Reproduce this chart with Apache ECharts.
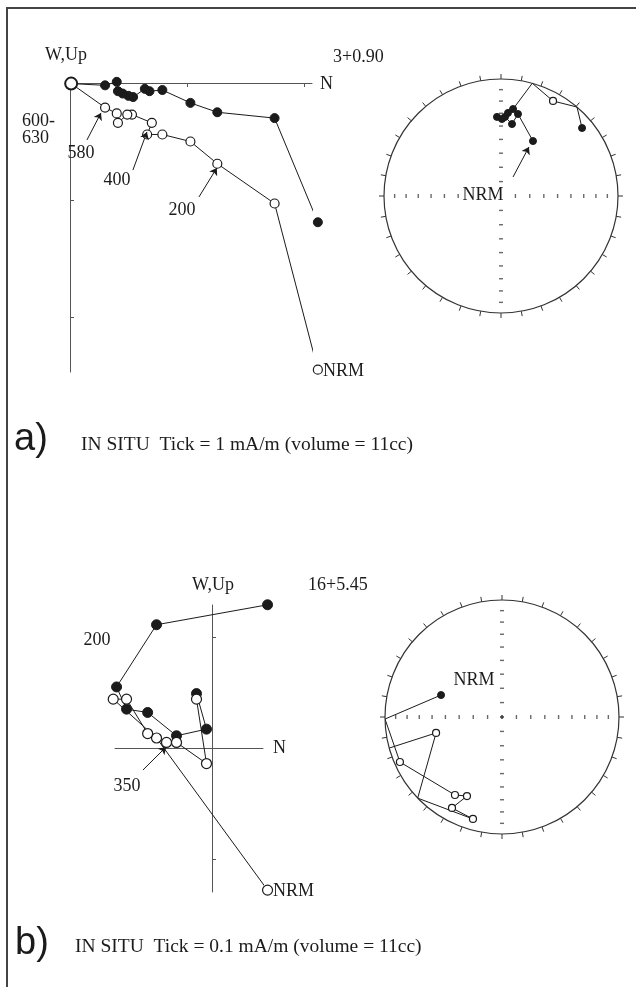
<!DOCTYPE html>
<html><head><meta charset="utf-8">
<script src="https://cdn.jsdelivr.net/npm/echarts@6/dist/echarts.min.js"></script>
<style>html,body{margin:0;padding:0;background:#fff}#c{width:636px;height:987px}</style>
</head><body><div id="c"></div>
<script>
// ---------- a) site 3+0.90 : Zijderveld (mA/m) ----------
const zA_horN  = [2.12,1.75,1.26,1.03,0.79,0.68,0.64,0.54,0.50,0.45,0.41,0.40,0.30,0.01];
const zA_horW  = [-1.19,-0.30,-0.25,-0.17,-0.06,-0.07,-0.05,-0.12,-0.11,-0.09,-0.07,0.01,-0.02,-0.005];
const zA_verN  = [2.12,1.75,1.26,1.03,0.79,0.66,0.70,0.53,0.49,0.41,0.40,0.30,0.01];
const zA_verUp = [-2.45,-1.03,-0.69,-0.50,-0.44,-0.44,-0.34,-0.27,-0.27,-0.34,-0.26,-0.21,-0.005];
const zA_ticksN = [1,2];
const zA_ticksUp = [-1,-2];
// ---------- a) stereonet (declination, inclination) ----------
const sA_dec = [30.2,11.7,8.7,2.9,357.1,0.7,4.8,7.9,15.5,28.7,40.5,50.0];
const sA_inc = [44.8,29.2,37.8,32.8,32.8,34.5,29.5,25.9,0,-8.2,0,10.5];

// ---------- b) site 16+5.45 : Zijderveld (mA/m) ----------
const zB_horN  = [0.050,-0.050,-0.086,-0.077,-0.058,-0.032,-0.005,-0.014];
const zB_horW  = [0.129,0.111,0.055,0.035,0.032,0.011,0.017,0.049];
const zB_verN  = [0.050,-0.050,-0.089,-0.077,-0.058,-0.041,-0.032,-0.005,-0.014];
const zB_verUp = [-0.128,0.009,0.044,0.044,0.013,0.005,0.005,-0.014,0.044];
const zB_ticksUp = [-0.1,0.1];
// ---------- b) stereonet ----------
const sB_dec = [289.8,269.0,246.2,211.1,203.9,208.8,195.9,226.1,256.4,254.6];
const sB_inc = [43.9,0,-5.2,-23.2,-27.0,-12.3,-10.3,0,-41.6,0];

// stereonet grid ticks (inclination every 10 deg along the N-S / E-W diameters)
const stereoTickInc = [10,20,30,40,50,60,70,80,90];
const crossDecs = [0,90,180,270];

// annotation arrows (data coords: [tail],[head])
const arrowsA = [[[-0.188,-0.145],[-0.06,-0.043]],[[0.145,-0.487],[0.265,-0.256]],[[0.538,-0.744],[0.658,-0.419]],[[1.103,-0.974],[1.256,-0.726]]];
const arrowsB = [[[-0.1009,0.0883],[-0.0892,0.0595]],[[-0.0622,-0.0198],[-0.0414,0.0009]]];
const arrowSA = [[0.192,32.3],[0.482,29.7]];

const ink = '#1b1b1b';
const axisCol = '#555';
const serif = '"Liberation Serif","DejaVu Serif",serif';
const sans = '"Liberation Sans","DejaVu Sans",sans-serif';

const zip = (a,b) => a.map((v,i)=>[v,b[i]]);
const eqArea = inc => Math.SQRT2*Math.sin((90-Math.abs(inc))/2*Math.PI/180);
const closedStyle = {color:ink,borderColor:ink,borderWidth:1};
const openStyle = {color:'#fff',borderColor:ink,borderWidth:1.2};

function stereoData(decs,incs){
  return decs.map((d,i)=>{
    const inc=incs[i];
    const it={value:[eqArea(inc),d]};
    if(inc===0){it.symbol='none';it.symbolSize=0;}
    else it.itemStyle = inc<0?openStyle:closedStyle;
    return it;
  });
}
function crossTicks(){
  const out=[];
  stereoTickInc.forEach(inc=>crossDecs.forEach(dec=>{
    out.push({value:[eqArea(inc),dec],symbolSize:(dec%180===0)?[4,1.4]:[1.4,4]});
  }));
  return out;
}
function arrowML(list){
  return {silent:true,symbol:['none','arrow'],symbolSize:7,animation:false,
    label:{show:false},lineStyle:{color:ink,width:1,type:'solid'},emphasis:{disabled:true},
    data:list.map(p=>[{coord:p[0]},{coord:p[1]}])};
}
function valAxis(grid,min,max,ticks,extra){
  return Object.assign({gridIndex:grid,type:'value',min:min,max:max,
    axisLine:{show:true,onZero:true,lineStyle:{color:axisCol,width:1}},
    axisTick:{show:!!ticks,customValues:ticks||[],inside:true,length:4,lineStyle:{color:axisCol}},
    axisLabel:{show:false},splitLine:{show:false}},extra||{});
}
function angAxis(p){
  return {polarIndex:p,type:'value',min:0,max:360,interval:10,startAngle:90,clockwise:true,
    axisLine:{lineStyle:{color:'#333',width:1.2}},axisTick:{show:true,length:5,lineStyle:{color:'#333',width:1}},
    axisLabel:{show:false},splitLine:{show:false}};
}
function radAxis(p){
  return {polarIndex:p,type:'value',min:0,max:1,axisLine:{show:false},axisTick:{show:false},axisLabel:{show:false},splitLine:{show:false}};
}
function zSeries(grid,data,style,size,extra){
  return Object.assign({type:'line',xAxisIndex:grid,yAxisIndex:grid,data:data,clip:false,
    symbol:'circle',symbolSize:size,itemStyle:style,lineStyle:{color:ink,width:1},
    emphasis:{disabled:true},silent:true},extra||{});
}
function stSeries(p,decs,incs,extra){
  return Object.assign({type:'line',coordinateSystem:'polar',polarIndex:p,data:stereoData(decs,incs),
    symbol:'circle',symbolSize:7,lineStyle:{color:ink,width:1},emphasis:{disabled:true},silent:true,z:4},extra||{});
}

const texts = [
  {t:'W,Up',x:66,y:55,a:'center'},
  {t:'N',x:320,y:84},
  {t:'3+0.90',x:333,y:57},
  {t:'600-',x:22,y:121},
  {t:'630',x:22,y:138},
  {t:'580',x:81,y:153,a:'center'},
  {t:'400',x:117,y:180,a:'center'},
  {t:'200',x:182,y:210,a:'center'},
  {t:'NRM',x:323,y:371},
  {t:'NRM',x:483,y:195,a:'center',bg:true},
  {t:'a)',x:14,y:440,s:38,f:sans},
  {t:'IN SITU  Tick = 1 mA/m (volume = 11cc)',x:81,y:445,s:19.5},
  {t:'W,Up',x:213,y:585,a:'center'},
  {t:'16+5.45',x:308,y:585},
  {t:'N',x:273,y:748},
  {t:'200',x:97,y:640,a:'center'},
  {t:'350',x:127,y:786,a:'center'},
  {t:'NRM',x:273,y:891},
  {t:'NRM',x:474,y:680,a:'center'},
  {t:'b)',x:15,y:944,s:38,f:sans},
  {t:'IN SITU  Tick = 0.1 mA/m (volume = 11cc)',x:75,y:947,s:19.5}
];

const graphic = texts.map(o=>({type:'text',x:o.x,y:o.y,z:100,silent:true,
  style:{text:o.t,font:(o.s||18)+'px '+(o.f||serif),fill:ink,align:o.a||'left',verticalAlign:'middle',
    textAlign:o.a||'left',textVerticalAlign:'middle',backgroundColor:o.bg?'#fff':'transparent',padding:o.bg?[0,1]:0}}));
graphic.push({type:'line',z:100,silent:true,shape:{x1:7,y1:8,x2:7,y2:987},style:{stroke:'#444',lineWidth:2}});
graphic.push({type:'line',z:100,silent:true,shape:{x1:6,y1:8,x2:636,y2:8},style:{stroke:'#444',lineWidth:2}});

const zA_open = zip(zA_verN,zA_verUp).map((v,i,arr)=> i===arr.length-1?{value:v,symbolSize:12,itemStyle:{color:'#fff',borderColor:ink,borderWidth:2}}:v);

const option = {
  animation:false,
  backgroundColor:'#fff',
  graphic:graphic,
  grid:[
    {left:70,top:83,width:242,height:289},
    {left:115,top:605,width:148,height:287}
  ],
  xAxis:[
    valAxis(0,0,2.07,zA_ticksN,{position:'top'}),
    valAxis(1,-0.0874,0.0459,null)
  ],
  yAxis:[
    valAxis(0,-2.47,0,zA_ticksUp),
    valAxis(1,-0.1297,0.1288,zB_ticksUp)
  ],
  polar:[{center:[501,196],radius:117},{center:[502,717],radius:117}],
  angleAxis:[angAxis(0),angAxis(1)],
  radiusAxis:[radAxis(0),radAxis(1)],
  series:[
    zSeries(0,zip(zA_horN,zA_horW),closedStyle,9),
    zSeries(0,zA_open,openStyle,9,{markLine:arrowML(arrowsA)}),
    zSeries(1,zip(zB_horN,zB_horW),closedStyle,10),
    zSeries(1,zip(zB_verN,zB_verUp),openStyle,10,{markLine:arrowML(arrowsB)}),
    {type:'scatter',coordinateSystem:'polar',polarIndex:0,data:crossTicks(),symbol:'rect',itemStyle:{color:'#444'},silent:true,z:2},
    {type:'scatter',coordinateSystem:'polar',polarIndex:1,data:crossTicks(),symbol:'rect',itemStyle:{color:'#444'},silent:true,z:2},
    stSeries(0,sA_dec,sA_inc,{markLine:arrowML([arrowSA])}),
    stSeries(1,sB_dec,sB_inc)
  ]
};
const chart = echarts.init(document.getElementById('c'));
chart.setOption(option);
</script></body></html>
